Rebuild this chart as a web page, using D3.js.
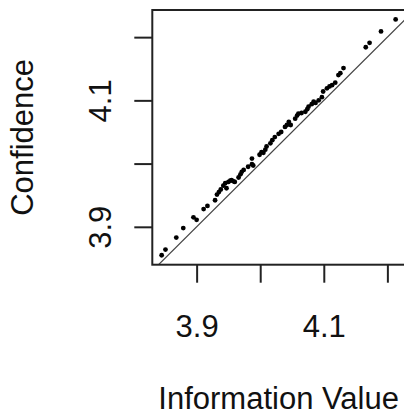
<!DOCTYPE html>
<html>
<head>
<meta charset="utf-8">
<script src="https://cdn.jsdelivr.net/npm/d3@7"></script>
<style>
    body { margin: 0; background: #fff; }
    svg { display: block; font-family: "Liberation Sans", Arial, sans-serif; }
</style>
</head>
<body>
<svg id="chart" width="404" height="414"></svg>
<script>
// values
var infoValue = [3.845, 3.851, 3.868, 3.879, 3.895, 3.900, 3.911, 3.917, 3.929, 3.932,
    3.935, 3.938, 3.942, 3.945, 3.947, 3.950, 3.953, 3.955, 3.958, 3.960,
    3.966, 3.969, 3.971, 3.974, 3.981, 3.987, 3.987, 3.989, 3.999, 4.002,
    4.005, 4.008, 4.010, 4.016, 4.019, 4.023, 4.029, 4.033, 4.039, 4.042,
    4.045, 4.048, 4.055, 4.058, 4.060, 4.065, 4.071, 4.074, 4.076, 4.081,
    4.084, 4.087, 4.092, 4.097, 4.099, 4.105, 4.109, 4.113, 4.118, 4.123,
    4.126, 4.131, 4.166, 4.172, 4.190, 4.213];
var confidence = [3.855, 3.864, 3.883, 3.898, 3.915, 3.911, 3.928, 3.933, 3.942, 3.951,
    3.955, 3.959, 3.965, 3.969, 3.961, 3.971, 3.973, 3.974, 3.972, 3.971,
    3.978, 3.983, 3.987, 3.990, 3.995, 3.999, 4.008, 3.997, 4.014, 4.018,
    4.017, 4.022, 4.027, 4.032, 4.037, 4.042, 4.047, 4.050, 4.058, 4.061,
    4.066, 4.061, 4.071, 4.076, 4.079, 4.080, 4.082, 4.086, 4.090, 4.094,
    4.098, 4.096, 4.100, 4.105, 4.114, 4.119, 4.122, 4.124, 4.128, 4.140,
    4.143, 4.151, 4.184, 4.191, 4.209, 4.228];
var tickValues = [3.9, 4.0, 4.1, 4.2];
var tickLabels = ["3.9", "", "4.1", ""];   // R drops the ones that would overlap

var svg = d3.select("#chart");
// note: "top" is taken by window.top, so plotTop etc
var plotLeft = 152.3, plotRight = 405, plotTop = 10, plotBottom = 264.7;
var fontSize = 31;

// R style axis range: data extent plus 4% each side
function padded(vals) {
    var ext = d3.extent(vals);
    var pad = (ext[1] - ext[0]) * 0.04;
    return [ext[0] - pad, ext[1] + pad];
}

var xScale = d3.scaleLinear().domain(padded(infoValue)).range([plotLeft, plotRight]);
var yScale = d3.scaleLinear().domain(padded(confidence)).range([plotBottom, plotTop]);

var data = infoValue.map(function (d, i) {
    return {x: d, y: confidence[i]};
});

svg.append("clipPath").attr("id", "plotclip")
    .append("rect")
    .attr("x", plotLeft).attr("y", plotTop)
    .attr("width", plotRight - plotLeft).attr("height", plotBottom - plotTop);

// y = x reference line
var lo = Math.min(xScale.domain()[0], yScale.domain()[0]);
var hi = Math.max(xScale.domain()[1], yScale.domain()[1]);
svg.append("line")
    .attr("clip-path", "url(#plotclip)")
    .attr("x1", xScale(lo)).attr("y1", yScale(lo))
    .attr("x2", xScale(hi)).attr("y2", yScale(hi))
    .attr("stroke", "#444")
    .attr("stroke-width", 1.2);

svg.append("g")
    .attr("clip-path", "url(#plotclip)")
    .selectAll("circle")
    .data(data)
    .enter().append("circle")
    .attr("cx", function (d) { return xScale(d.x); })
    .attr("cy", function (d) { return yScale(d.y); })
    .attr("r", 2.4)
    .attr("fill", "#000");

// axes, ticks pointing outward
var xAxis = d3.axisBottom(xScale)
    .tickValues(tickValues)
    .tickSize(18)
    .tickPadding(32)
    .tickFormat(function (d, i) { return tickLabels[i]; });
var gx = svg.append("g")
    .attr("transform", "translate(0," + plotBottom + ")")
    .call(xAxis);
gx.select(".domain").remove();

var yAxis = d3.axisLeft(yScale)
    .tickValues(tickValues)
    .tickSize(18)
    .tickFormat(function (d, i) { return tickLabels[i]; });
var gy = svg.append("g")
    .attr("transform", "translate(" + plotLeft + ",0)")
    .call(yAxis);
gy.select(".domain").remove();

svg.selectAll(".tick line")
    .attr("stroke", "#222")
    .attr("stroke-width", 2);
svg.selectAll(".tick text")
    .attr("fill", "#111")
    .style("font-size", fontSize + "px")
    .style("font-family", "'Liberation Sans', Arial, sans-serif");

// rotate y tick labels like R's las=0
gy.selectAll(".tick text")
    .attr("x", null).attr("dy", null)
    .attr("text-anchor", "middle")
    .attr("transform", "translate(-41,0) rotate(-90)");

// box
svg.append("rect")
    .attr("x", plotLeft).attr("y", plotTop)
    .attr("width", plotRight - plotLeft).attr("height", plotBottom - plotTop)
    .attr("fill", "none")
    .attr("stroke", "#222")
    .attr("stroke-width", 2);

// axis titles
svg.append("text")
    .attr("x", (plotLeft + plotRight) / 2)
    .attr("y", 409)
    .attr("text-anchor", "middle")
    .style("font-size", fontSize + "px")
    .attr("fill", "#111")
    .text("Information Value");

svg.append("text")
    .attr("transform", "translate(33," + ((plotTop + plotBottom) / 2) + ") rotate(-90)")
    .attr("text-anchor", "middle")
    .style("font-size", fontSize + "px")
    .attr("fill", "#111")
    .text("Confidence");
</script>
</body>
</html>
